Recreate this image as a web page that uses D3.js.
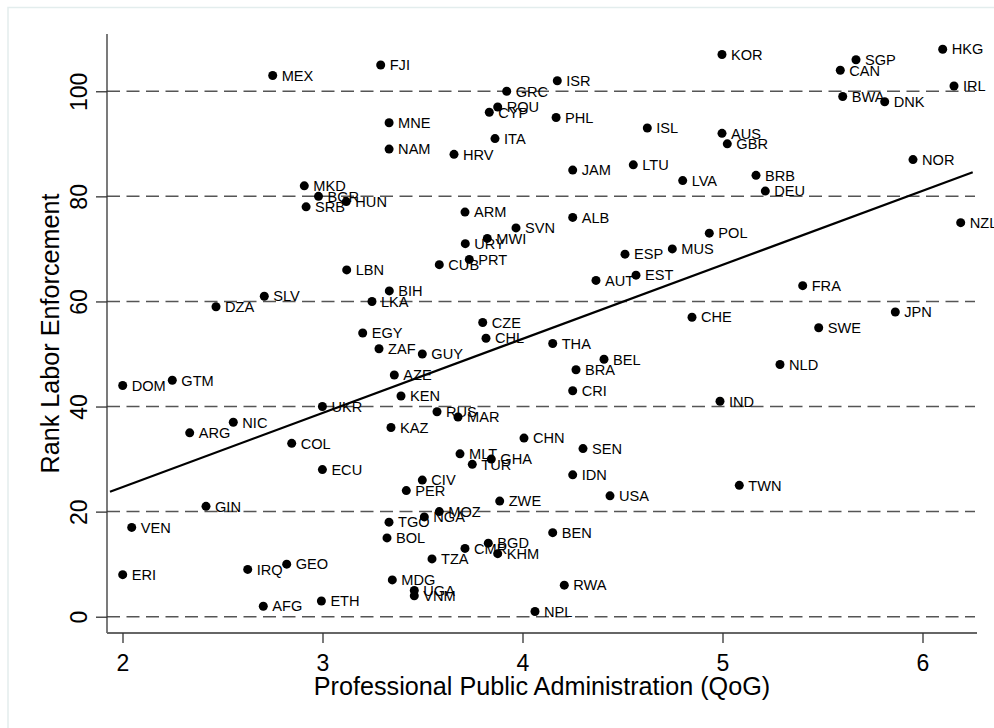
<!DOCTYPE html>
<html>
<head>
<meta charset="utf-8">
<script src="https://cdn.jsdelivr.net/npm/d3@7"></script>
<style>
  html, body { margin: 0; padding: 0; background: #ffffff; }
  svg { display: block; font-family: "Liberation Sans", Arial, Helvetica, sans-serif; }
</style>
</head>
<body>
<svg id="chart" width="994" height="728"></svg>
<script>
// ---- data ----
const codes = ["MEX","FJI","ISR","GRC","ROU","CYP","PHL","MNE","ITA","NAM","HRV","JAM","LTU","ISL",
  "KOR","SGP","CAN","HKG","IRL","BWA","DNK","AUS","GBR","NOR","BRB","LVA","DEU","NZL","POL","MUS",
  "ESP","EST","AUT","MKD","BGR","SRB","HUN","LBN","ARM","ALB","SVN","URY","MWI","PRT","CUB","BIH",
  "LKA","CZE","CHL","EGY","ZAF","GUY","THA","BEL","BRA","CRI","AZE","KEN","UKR","RUS","MAR","KAZ",
  "CHN","SEN","MLT","GHA","TUR","IDN","ECU","CIV","PER","USA","ZWE","MOZ","NGA","TGO","BOL","BEN",
  "BGD","CMR","KHM","TZA","MDG","RWA","UGA","VNM","NPL","ETH","GIN","VEN","ERI","IRQ","GEO","AFG",
  "SLV","DZA","DOM","GTM","NIC","ARG","COL","FRA","CHE","SWE","JPN","NLD","IND","TWN"];
const qog = [2.751,3.291,4.174,3.921,3.876,3.834,4.168,3.333,3.8625,3.333,3.6575,4.251,4.554,4.624,
  4.9975,5.6675,5.589,6.101,6.1575,5.601,5.811,4.9975,5.024,5.9525,5.1675,4.801,5.214,6.191,4.934,4.749,
  4.5125,4.5675,4.3675,2.909,2.98,2.918,3.119,3.121,3.7125,4.251,3.9675,3.714,3.824,3.734,3.584,3.334,
  3.2475,3.801,3.8175,3.201,3.2825,3.499,4.151,4.4075,4.2675,4.251,3.359,3.3925,2.9995,3.5725,3.6775,3.3425,
  4.0075,4.3025,3.6875,3.844,3.749,4.251,2.9995,3.499,3.419,4.4375,3.886,3.584,3.509,3.3325,3.3225,4.151,
  3.829,3.7125,3.876,3.5475,3.349,4.209,3.459,3.459,4.0625,2.9945,2.4175,2.046,2.001,2.626,2.821,2.704,
  2.709,2.4675,2.001,2.249,2.554,2.336,2.846,5.401,4.8475,5.481,5.864,5.2875,4.9875,5.084];
const rank = [103,105,102,100,97,96,95,94,91,89,88,85,86,93,
  107,106,104,108,101,99,98,92,90,87,84,83,81,75,73,70,
  69,65,64,82,80,78,79,66,77,76,74,71,72,68,67,62,
  60,56,53,54,51,50,52,49,47,43,46,42,40,39,38,36,
  34,32,31,30,29,27,28,26,24,23,22,20,19,18,15,16,
  14,13,12,11,7,6,5,4,1,3,21,17,8,9,10,2,
  61,59,44,45,37,35,33,63,57,55,58,48,41,25];
const xTicks = [2, 3, 4, 5, 6];
const yTicks = [0, 20, 40, 60, 80, 100];
const fitX = [1.9375, 6.251];
const fitY = [23.8, 84.6];
const xTitle = "Professional Public Administration (QoG)";
const yTitle = "Rank Labor Enforcement";

// ---- layout ----
const svg = d3.select("#chart");
const L = 107, R = 977, T = 34, B = 633;
const x = d3.scaleLinear().domain([1.9225, 6.2725]).range([L, R]);
const y = d3.scaleLinear().domain([-3.1, 110.9]).range([B, T]);

// outer faint border (graph region)
svg.append("path").attr("d", "M8,728 L8,7.5 L994,7.5")
  .attr("fill", "none").attr("stroke", "#e3eded").attr("stroke-width", 1.5);

// gridlines
svg.append("g").selectAll("line").data(yTicks).join("line")
  .attr("x1", L).attr("x2", R - 2)
  .attr("y1", d => y(d)).attr("y2", d => y(d))
  .attr("stroke", "#555").attr("stroke-width", 1.5)
  .attr("stroke-dasharray", "13,6.5");

// fit line
svg.append("line")
  .attr("x1", x(fitX[0])).attr("y1", y(fitY[0]))
  .attr("x2", x(fitX[1])).attr("y2", y(fitY[1]))
  .attr("stroke", "#000").attr("stroke-width", 2.2);

// axes
const yAxis = d3.axisLeft(y).tickValues(yTicks).tickSize(11).tickPadding(0).tickFormat(d3.format("d"));
const gy = svg.append("g").attr("transform", `translate(${L},0)`).call(yAxis);
gy.select(".domain").attr("d", `M0,${T}V${B}`).attr("stroke", "#333").attr("stroke-width", 1.3);
gy.selectAll(".tick line").attr("stroke", "#333").attr("stroke-width", 1.3);
gy.selectAll(".tick text")
  .attr("font-size", 23).attr("fill", "#000")
  .attr("text-anchor", "middle")
  .attr("transform", "translate(-20.5,0) rotate(-90)")
  .attr("x", 0).attr("dy", "0");

const xAxis = d3.axisBottom(x).tickValues(xTicks).tickSize(10).tickPadding(0).tickFormat(d3.format("d"));
const gx = svg.append("g").attr("transform", `translate(0,${B})`).call(xAxis);
gx.select(".domain").attr("d", `M${L},0H${R}`).attr("stroke", "#666").attr("stroke-width", 2);
gx.selectAll(".tick line").attr("stroke", "#333").attr("stroke-width", 1.3);
gx.selectAll(".tick text").attr("font-size", 23).attr("fill", "#000").attr("y", 38).attr("dy", "0");

// axis titles
svg.append("text").attr("x", (L + R) / 2).attr("y", 695).attr("text-anchor", "middle")
  .attr("font-size", 25.2).attr("fill", "#000").text(xTitle);
svg.append("text").attr("transform", `translate(58.5,${(T + B) / 2}) rotate(-90)`).attr("text-anchor", "middle")
  .attr("font-size", 25.2).attr("fill", "#000").text(yTitle);

// points
const pts = codes.map((c, i) => ({ c, x: qog[i], y: rank[i] }));
const gp = svg.append("g");
gp.selectAll("circle").data(pts).join("circle")
  .attr("cx", d => x(d.x)).attr("cy", d => y(d.y)).attr("r", 4.5).attr("fill", "#000");
gp.selectAll("text").data(pts).join("text")
  .attr("x", d => x(d.x) + 9).attr("y", d => y(d.y)).attr("dy", "0.36em")
  .attr("font-size", 14.6).attr("fill", "#000").text(d => d.c);
</script>
</body>
</html>
